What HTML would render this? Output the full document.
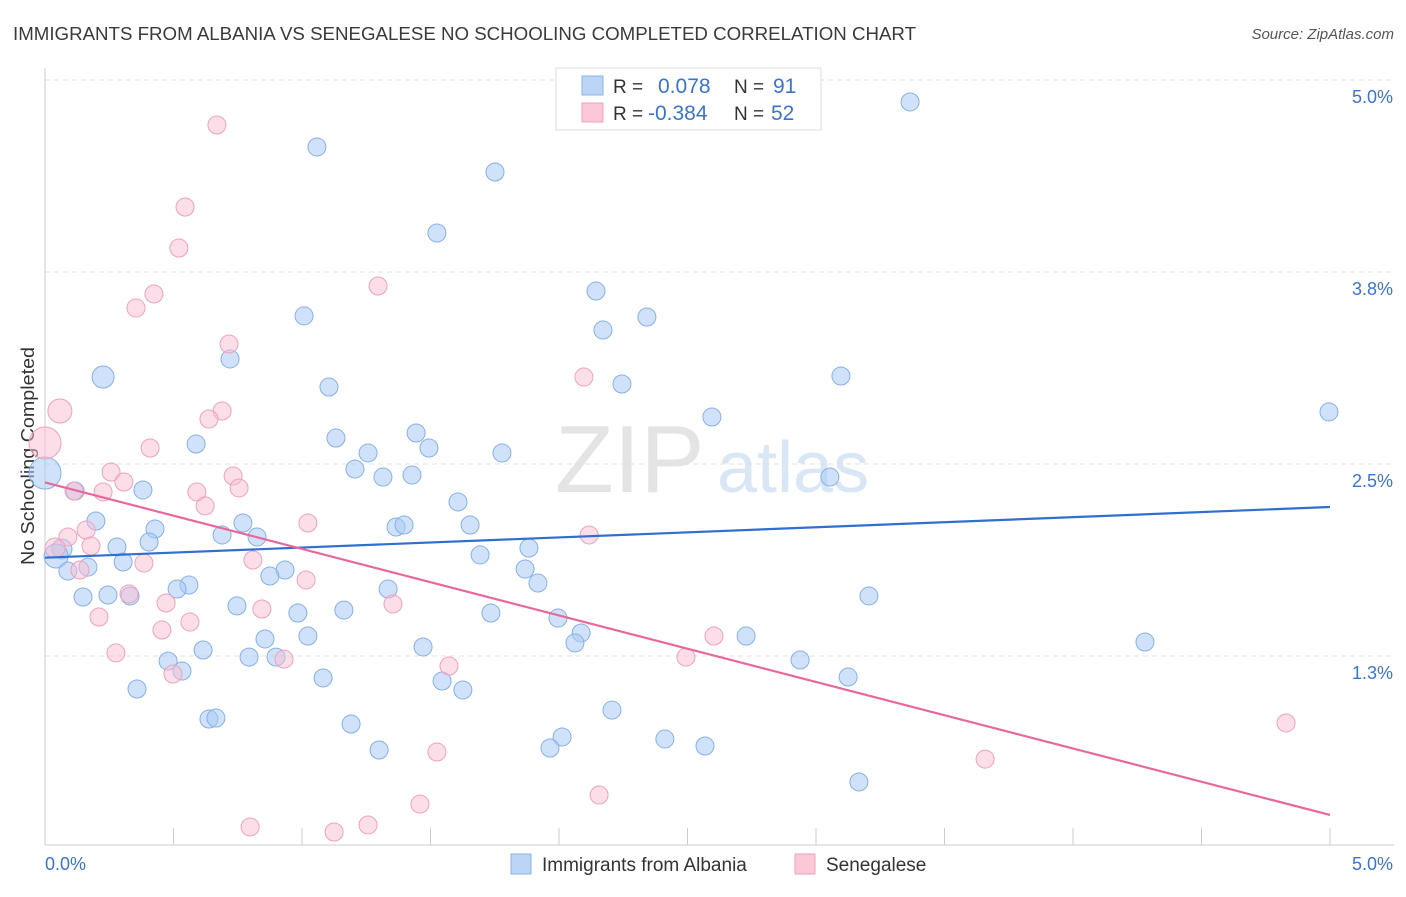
<!DOCTYPE html>
<html><head><meta charset="utf-8"><style>
body{margin:0;background:#fff;font-family:"Liberation Sans",sans-serif;}
svg text{font-family:"Liberation Sans",sans-serif;}
</style></head><body>
<svg id="chart" width="1406" height="892" xmlns="http://www.w3.org/2000/svg">
<text x="13" y="40" font-size="18" fill="#3a3a3a" textLength="903" lengthAdjust="spacingAndGlyphs">IMMIGRANTS FROM ALBANIA VS SENEGALESE NO SCHOOLING COMPLETED CORRELATION CHART</text>
<text x="1394" y="39" font-size="15" fill="#555" font-style="italic" text-anchor="end">Source: ZipAtlas.com</text>
<text transform="translate(34,456) rotate(-90)" font-size="18" fill="#333" text-anchor="middle" textLength="218" lengthAdjust="spacingAndGlyphs">No Schooling Completed</text>
<g><text x="555" y="492" font-size="96" fill="#e4e4e4" font-family="Liberation Serif">ZIP</text><text x="717" y="492" font-size="72" fill="#d8e6f6">atlas</text></g>
<g id="grid"></g><g id="axes"></g><g id="pts"></g><g id="trends"></g>
<g>
<rect x="556" y="68" width="265" height="62" fill="#fff" stroke="#ddd"/>
<rect x="582" y="76" width="21" height="19" fill="#bcd5f6" stroke="#8ab4e8"/>
<rect x="582" y="103" width="21" height="19" fill="#fcc8d8" stroke="#f0a0bb"/>
<text x="613" y="93" font-size="19" fill="#333">R =</text><text x="658" y="93" font-size="21" fill="#3a74d0">0.078</text>
<text x="734" y="93" font-size="19" fill="#333">N =</text><text x="773" y="93" font-size="21" fill="#3a74d0">91</text>
<text x="613" y="120" font-size="19" fill="#333">R =</text><text x="648" y="120" font-size="21" fill="#3a74d0">-0.384</text>
<text x="734" y="120" font-size="19" fill="#333">N =</text><text x="771" y="120" font-size="21" fill="#3a74d0">52</text>
</g>
<g>
<rect x="511" y="854" width="20" height="20" fill="#bcd5f6" stroke="#8ab4e8"/>
<text x="542" y="871" font-size="19" fill="#333">Immigrants from Albania</text>
<rect x="795" y="854" width="20" height="20" fill="#fcc8d8" stroke="#f0a0bb"/>
<text x="826" y="871" font-size="19" fill="#333">Senegalese</text>
</g>
</svg>
<script>
const xTicks=[0,0.5,1,1.5,2,2.5,3,3.5,4,4.5,5];
const yTicks=[1.25,2.5,3.75,5];
const yTickLabels=["1.3%","2.5%","3.8%","5.0%"];
const blueX=[3.366,1.058,1.751,1.525,2.144,1.008,2.171,2.342,0.720,0.226,1.105,2.245,3.097,2.595,4.996,1.132,1.444,0.588,1.494,1.257,1.778,1.206,1.315,1.428,3.054,0,0.117,0.381,1.607,0.198,0.770,0.428,1.654,1.366,1.397,0.689,0.825,0.405,1.883,0.280,0.066,0.043,1.693,0.304,0.167,0.089,1.868,0.934,0.875,1.918,0.560,0.514,1.335,0.148,0.245,0.331,3.206,0.747,0.984,1.163,1.735,1.996,2.086,2.062,0.856,1.023,2.728,4.280,0.615,1.471,0.794,0.899,0.479,0.533,2.938,1.082,3.125,1.545,1.626,0.358,2.206,0.638,0.665,1.191,2.012,1.965,2.412,2.568,1.300,3.167];
const blueY=[4.857,4.564,4.401,4.004,3.626,3.464,3.372,3.457,3.184,3.066,3.001,3.021,3.073,2.806,2.839,2.669,2.702,2.630,2.604,2.572,2.572,2.467,2.415,2.428,2.415,2.441,2.324,2.331,2.253,2.129,2.116,2.077,2.103,2.090,2.103,2.038,2.025,1.992,1.953,1.960,1.947,1.901,1.908,1.862,1.829,1.803,1.816,1.810,1.771,1.725,1.712,1.686,1.686,1.634,1.647,1.641,1.641,1.576,1.530,1.549,1.530,1.497,1.400,1.335,1.361,1.380,1.380,1.341,1.289,1.309,1.243,1.243,1.217,1.152,1.224,1.107,1.113,1.087,1.029,1.035,0.898,0.840,0.846,0.807,0.723,0.651,0.710,0.664,0.638,0.430];
const blueSize=[9,9,9,9,9,9,9,9,9,11,9,9,9,9,9,9,9,9,9,9,9,9,9,9,9,16,9,9,9,9,9,9,9,9,9,9,9,9,9,9,10,12,9,9,9,9,9,9,9,9,9,9,9,9,9,9,9,9,9,9,9,9,9,9,9,9,9,9,9,9,9,9,9,9,9,9,9,9,9,9,9,9,9,9,9,9,9,9,9,9];
const pinkX=[0.669,0.545,0.521,0.424,0.354,1.296,0.716,2.097,0.058,0.689,0.638,0,0.409,0.257,0.732,0.307,0.755,0.591,0.226,0.113,0.623,1.023,0.160,0.089,2.117,0.179,0.039,0.385,0.809,0.136,1.016,0.327,0.471,0.844,1.354,0.210,0.564,0.455,2.603,0.276,0.930,2.494,1.572,0.498,4.829,1.525,3.658,2.156,1.459,1.257,0.798,1.125];
const pinkY=[4.707,4.173,3.906,3.607,3.516,3.659,3.281,3.066,2.845,2.845,2.793,2.637,2.604,2.448,2.422,2.383,2.344,2.318,2.318,2.324,2.227,2.116,2.070,2.025,2.038,1.966,1.953,1.855,1.875,1.810,1.745,1.654,1.595,1.556,1.589,1.504,1.471,1.419,1.380,1.270,1.230,1.243,1.185,1.133,0.814,0.625,0.579,0.345,0.286,0.150,0.137,0.104];
const pinkSize=[9,9,9,9,9,9,9,9,12,9,9,16,9,9,9,9,9,9,9,9,9,9,9,9,9,9,10,9,9,9,9,9,9,9,9,9,9,9,9,9,9,9,9,9,9,9,9,9,9,9,9,9];
const blueTrend=[1.89,2.22];
const pinkTrend=[2.38,0.215];
const NS="http://www.w3.org/2000/svg";
const X=v=>45+v*257, Y=v=>848-v*153.6;
function mk(t,a,p){const e=document.createElementNS(NS,t);for(const k in a)e.setAttribute(k,a[k]);p.appendChild(e);return e;}
const grid=document.getElementById('grid'),axes=document.getElementById('axes');
yTicks.forEach((t,i)=>{
 const l=mk('line',{x1:45,x2:1394,y1:Y(t),y2:Y(t),stroke:'#e0e0e0','stroke-dasharray':'5,4'},grid);
 
 
 const tx=mk('text',{x:1393,y:Y(t)+23,'font-size':18,fill:'#3a74d0','text-anchor':'end'},grid);tx.textContent=yTickLabels[i];
 
 
});
mk('line',{x1:45,x2:45,y1:68,y2:845,stroke:'#ccc'},axes);
mk('line',{x1:45,x2:1394,y1:845,y2:845,stroke:'#ccc'},axes);
xTicks.forEach(t=>{const l=mk('line',{x1:X(t),x2:X(t),y1:828,y2:845,stroke:'#ccc'},axes);
 
 });
let a=mk('text',{x:45,y:870,'font-size':18,fill:'#3a74d0'},axes);a.textContent='0.0%';


a=mk('text',{x:1393,y:870,'font-size':18,fill:'#3a74d0','text-anchor':'end'},axes);a.textContent='5.0%';


const pts=document.getElementById('pts');
blueX.forEach((v,i)=>{const c=mk('circle',{cx:X(v),cy:Y(blueY[i]),r:blueSize[i],fill:'rgba(170,202,244,0.55)',stroke:'#86b0e6','stroke-width':1},pts);
 
 });
pinkX.forEach((v,i)=>{const c=mk('circle',{cx:X(v),cy:Y(pinkY[i]),r:pinkSize[i],fill:'rgba(250,190,210,0.5)',stroke:'#f0a0bb','stroke-width':1},pts);
 
 });
const tr=document.getElementById('trends');
let t1=mk('line',{x1:X(0),y1:Y(blueTrend[0]),x2:X(5),y2:Y(blueTrend[1]),stroke:'#2f6fd0','stroke-width':2.2},tr);


let t2=mk('line',{x1:X(0),y1:Y(pinkTrend[0]),x2:X(5),y2:Y(pinkTrend[1]),stroke:'#e8689a','stroke-width':2.2},tr);


</script>
</body></html>
